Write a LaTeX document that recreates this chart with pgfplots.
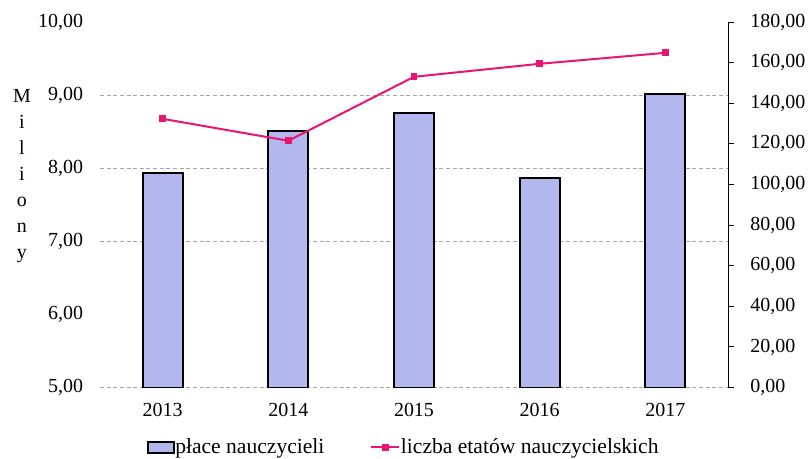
\documentclass[border=0pt]{standalone}
\usepackage{pgfplots}
\pgfplotsset{compat=1.18}
\usepackage{fontspec}
\setmainfont{Liberation Serif}
\definecolor{barfill}{RGB}{178,184,238}
\definecolor{linecol}{RGB}{232,22,112}
\newcommand{\fs}{\fontsize{15}{18}\selectfont}
\pgfplotsset{
  barlegend/.style={legend image code/.code={\draw[##1] (0pt,-4.1pt) rectangle (19.5pt,4.1pt);}},
  linelegend/.style={legend image code/.code={\draw[##1,mark repeat=2,mark phase=2] plot coordinates {(0pt,0pt) (10.5pt,0pt) (21pt,0pt)};}},
}
\begin{document}
\begin{tikzpicture}
\begin{axis}[name=ax, scale only axis, width=471.75pt, height=274.5pt,
  xmin=-0.5, xmax=4.5, ymin=0, ymax=5, clip=false,
  xtick={0,...,4}, xticklabels={2013,2014,2015,2016,2017},
  ytick={0,1,...,5}, yticklabels={{5,00},{6,00},{7,00},{8,00},{9,00},{10,00}},
  axis line style={draw=none}, tick style={draw=none},
  tick label style={font=\fs},
  yticklabel style={xshift=-9pt},
  xticklabel style={yshift=-8pt},
  extra y ticks={0,2,3,4}, extra y tick labels={},
  extra y tick style={grid=major, major grid style={densely dashed, black!35, line width=0.5pt}},
  every axis y label/.style={at={(axis description cs:-0.124,0.578)}, anchor=center, align=center, font=\fontsize{15}{19.6}\selectfont, inner sep=0pt},
  ylabel={M\\i\\l\\i\\o\\n\\y},
  legend style={at={(0.4825,-0.164)}, anchor=center, draw=none, fill=none, legend columns=2,
    font=\fontsize{16.2}{19}\selectfont, nodes={inner xsep=0.5pt},
    /tikz/every even column/.append style={column sep=34pt}},
]
\addplot[ybar, bar width=30pt, fill=barfill, draw=black, line width=1.4pt,
  y filter/.expression={y-5}, barlegend]
  coordinates {(0,7.93) (1,8.51) (2,8.76) (3,7.87) (4,9.02)};
\addlegendentry{płace nauczycieli}
\addlegendimage{linecol, line width=1.5pt, mark=square*, mark size=1.8pt, linelegend}
\addlegendentry{liczba etatów nauczycielskich}
\end{axis}
\begin{axis}[scale only axis, width=471.75pt, height=274.5pt,
  xmin=-0.5, xmax=4.5, ymin=0, ymax=180,
  axis y line*=right, axis x line=none,
  ytick={0,20,...,180}, tick align=outside, major tick length=4.5pt,
  ytick style={black, line width=0.6pt}, axis line style={black, line width=0.6pt, -},
  /pgf/number format/.cd, fixed, fixed zerofill, precision=2, use comma, assume math mode=true, /pgfplots/.cd,
  yticklabel style={font=\fs, anchor=west, inner xsep=0pt, xshift=12pt},
]
\addplot[linecol, line width=1.5pt, mark=square*, mark size=1.8pt]
  coordinates {(0,132.3) (1,121.5) (2,153.0) (3,159.4) (4,164.8)};
\end{axis}
\pgfresetboundingbox
\path ([shift={(-75pt,-53.25pt)}]ax.south west) rectangle ([shift={(60.75pt,16.5pt)}]ax.north east);
\end{tikzpicture}
\end{document}
